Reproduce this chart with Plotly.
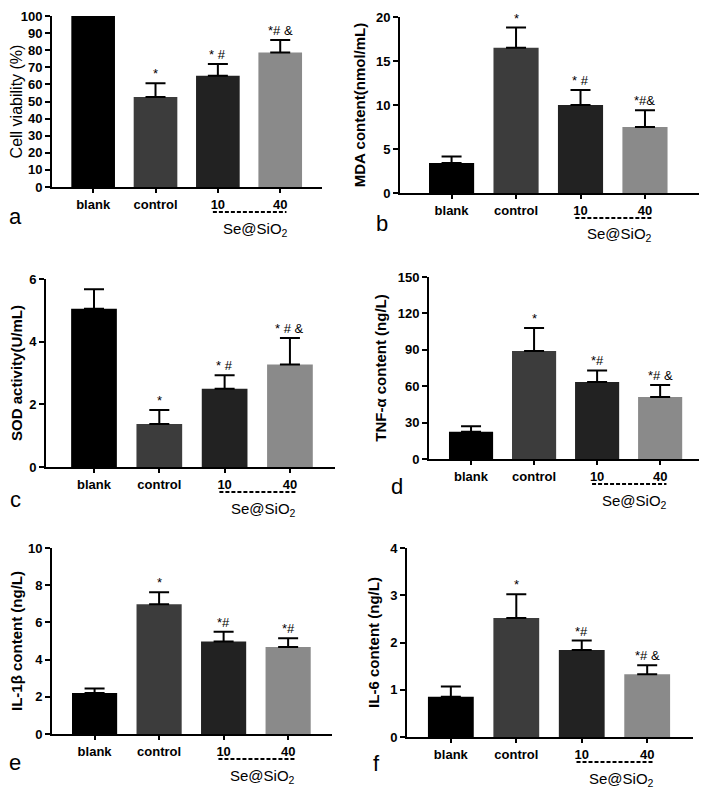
import plotly.graph_objects as go

W, H = 707, 789
OX, OY = 8, 8          # page body margin of the browser
FW, FH = W - OX, H - OY

# data
groups = ["blank", "control", "10", "40"]
bar_colors = ["#000000", "#3c3c3c", "#222222", "#8a8a8a"]

viability = [100, 52.7, 65.0, 78.7]
viability_err = [0, 8.0, 7.0, 7.3]
mda = [3.4, 16.5, 10.0, 7.5]
mda_err = [0.75, 2.3, 1.7, 1.9]
sod = [5.05, 1.37, 2.5, 3.27]
sod_err = [0.62, 0.45, 0.43, 0.85]
tnf = [22.5, 89.0, 63.5, 51.0]
tnf_err = [4.5, 19.0, 9.5, 10.0]
il1b = [2.2, 6.97, 4.97, 4.68]
il1b_err = [0.25, 0.65, 0.53, 0.47]
il6 = [0.85, 2.52, 1.84, 1.33]
il6_err = [0.22, 0.50, 0.20, 0.19]

marks_a = ["", "*", "* #", "*# &"]
marks_b = ["", "*", "* #", "*#&"]
marks_c = ["", "*", "* #", "* # &"]
marks_d = ["", "*", "*#", "*# &"]
marks_e = ["", "*", "*#", "*#"]
marks_f = ["", "*", "*#", "*# &"]


def px(x):
    return (x - OX) / FW


def py(y):
    return min(1.0, max(0.0, 1 - (y - OY) / FH))


# panel: values, errors, marks, title, y max, dtick, letter, letter pos, pixel box (x0, x1, ytop, ybot), x range
panels = [
    (viability, viability_err, marks_a, "Cell viability (%)", 100, 10, "a", (15, 221), (52, 322, 16, 187), (-0.66, 3.67), False),
    (mda, mda_err, marks_b, "MDA content(nmol/mL)", 20, 5, "b", (382, 227), (400, 703, 17, 193), (-0.8, 3.9), True),
    (sod, sod_err, marks_c, "SOD activity(U/mL)", 6, 2, "c", (15, 503), (46, 335, 279, 467), (-0.735, 3.69), True),
    (tnf, tnf_err, marks_d, "TNF-α content (ng/L)", 150, 30, "d", (397, 490), (429, 703, 277, 459), (-0.667, 3.68), True),
    (il1b, il1b_err, marks_e, "IL-1β content (ng/L)", 10, 2, "e", (15, 766), (52, 332, 548, 734), (-0.66, 3.68), True),
    (il6, il6_err, marks_f, "IL-6 content (ng/L)", 4, 1, "f", (376, 767), (407, 693, 548, 737), (-0.67, 3.70), True),
]

FONT = "Liberation Sans, Arial, sans-serif"

fig = go.Figure()
annotations = []
shapes = []

for i, (vals, errs, marks, title, ymax, dtick, letter, lpos, box, xr, bold) in enumerate(panels):
    n = "" if i == 0 else str(i + 1)
    x0, x1, yt, yb = box
    fig.add_trace(go.Bar(
        x=groups, y=vals, xaxis="x" + n, yaxis="y" + n,
        marker=dict(color=bar_colors, line=dict(width=0)),
        width=0.7,
        error_y=dict(type="data", array=errs, arrayminus=[0] * 4, symmetric=False,
                     color="black", thickness=2, width=10),
        showlegend=False, hoverinfo="skip",
    ))
    fig.layout["xaxis" + n] = dict(
        domain=[px(x0), px(x1)], anchor="y" + n, range=list(xr), type="category",
        showline=True, linecolor="black", linewidth=2,
        ticks="outside", ticklen=4, tickwidth=2, tickcolor="black",
        tickfont=dict(family=FONT, size=13, color="black", weight="bold"),
        showgrid=False, zeroline=False, fixedrange=True, automargin=False,
    )
    fig.layout["yaxis" + n] = dict(
        domain=[py(yb), py(yt)], anchor="x" + n, range=[0, ymax], dtick=dtick,
        showline=True, linecolor="black", linewidth=2,
        ticks="outside", ticklen=5, tickwidth=2, tickcolor="black",
        tickfont=dict(family=FONT, size=13, color="black", weight="bold"),
        ticklabeloverflow="allow",
        title=dict(text="<b>" + title + "</b>" if bold else title,
                   font=dict(family=FONT, size=16 if not bold else 15, color="black"),
                   standoff=7),
        showgrid=False, zeroline=False, fixedrange=True, automargin=False,
    )
    # significance marks above error bars (x by category index)
    for k, (v, e, m) in enumerate(zip(vals, errs, marks)):
        if m:
            annotations.append(dict(
                x=k, y=v + e, xref="x" + n, yref="y" + n, text=m, showarrow=False,
                yanchor="bottom", yshift=0, font=dict(family=FONT, size=13, color="black"),
            ))
    # dashed bracket and Se@SiO2 label
    dash_y = yb + 25
    shapes.append(dict(
        type="line", xref="x" + n, yref="paper", x0=1.92, x1=3.1,
        y0=py(dash_y), y1=py(dash_y),
        line=dict(color="black", width=2, dash="4px,2px"),
    ))
    annotations.append(dict(
        x=2.6, y=py(dash_y + 17), xref="x" + n, yref="paper",
        text="Se@SiO<sub>2</sub>", showarrow=False, yanchor="middle",
        font=dict(family=FONT, size=15, color="black"),
    ))
    # panel letter
    annotations.append(dict(
        x=px(lpos[0]), y=py(lpos[1] - 4),
        xref="paper", yref="paper", text=letter, showarrow=False,
        xanchor="center", yanchor="middle",
        font=dict(family=FONT, size=22, color="black"),
    ))

fig.update_layout(
    width=FW, height=FH,
    margin=dict(l=0, r=0, t=0, b=0),
    paper_bgcolor="white", plot_bgcolor="white",
    bargap=0.3,
    annotations=annotations, shapes=shapes,
)

fig.write_html("out.html")
